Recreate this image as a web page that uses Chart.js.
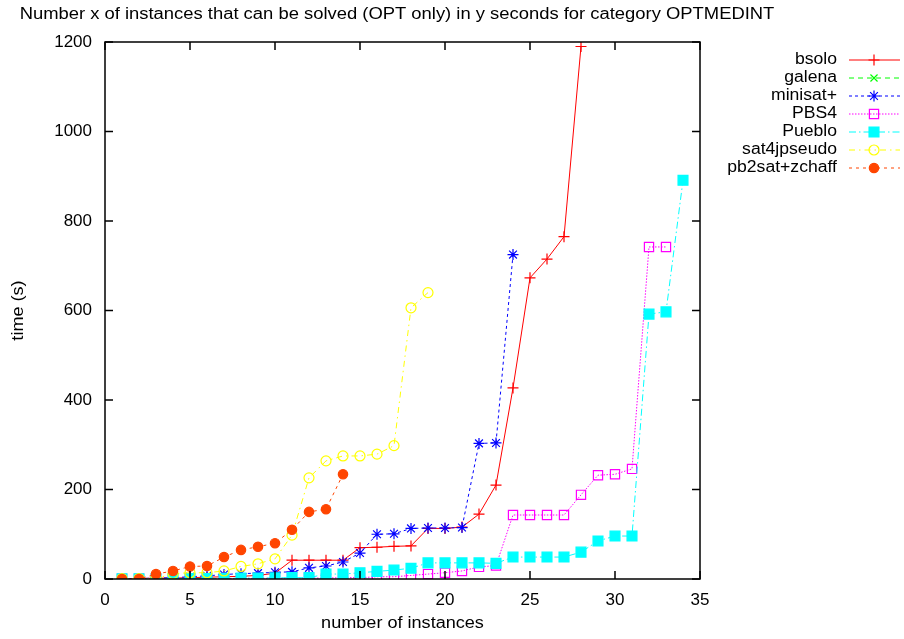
<!DOCTYPE html>
<html>
<head>
<meta charset="utf-8">
<script src="https://cdn.jsdelivr.net/npm/chart.js@4/dist/chart.umd.min.js"></script>
<style>
  html, body { margin: 0; padding: 0; background: #fff; }
  #chart { display: block; }
</style>
</head>
<body>
<canvas id="chart" width="904" height="639"></canvas>
<script>
// Solve times (s) per solver, sorted; the n-th value is the time needed for n instances.
const seriesNames = ['bsolo', 'galena', 'minisat+', 'PBS4', 'Pueblo', 'sat4jpseudo', 'pb2sat+zchaff'];

const bsoloTimes = [1, 1, 2, 2, 3, 4, 5, 6, 8, 13, 42, 42, 42, 42, 70, 71, 73, 74, 113, 113,
  116, 145, 210, 427, 673, 715, 765, 1190];
const galenaTimes = [];
const minisatTimes = [1, 1, 2, 3, 5, 7, 10, 12, 13, 15, 16, 25, 29, 38, 58, 100, 101, 113, 114, 114,
  115, 303, 304, 725];
const pbs4Times = [0.5, 0.5, 0.5, 1, 1, 1, 1, 1, 1.5, 1.5, 2, 2, 2, 3, 3, 5, 5, 8, 11, 14,
  18, 27, 30, 143, 143, 143, 143, 188, 232, 234, 246, 742, 742];
const puebloTimes = [0.5, 0.5, 0.5, 1, 1, 1, 1.5, 2, 2, 2.5, 3, 3, 11, 11, 14, 17, 20, 24, 36, 36,
  36, 36, 35, 49, 49, 49, 49, 60, 85, 96, 96, 592, 597, 891];
const sat4jTimes = [1, 1, 1, 12, 14, 14, 18, 28, 34, 45, 98, 226, 264, 275, 275, 279, 298, 606, 640];
const pb2satTimes = [0, 0, 11, 18, 28, 29, 49, 65, 72, 80, 110, 150, 156, 234];

const xTicks = [0, 5, 10, 15, 20, 25, 30, 35];
const yTicks = [0, 200, 400, 600, 800, 1000, 1200];

const TITLE = 'Number x of instances that can be solved (OPT only) in y seconds for category OPTMEDINT';
const FONT = '"Liberation Sans", Arial, Helvetica, sans-serif';

function toPoints(times) {
  return times.map((t, i) => ({ x: i + 1, y: t }));
}

// gnuplot-like styles
const styles = [
  { color: '#ff0000', dash: [], point: 'cross', radius: 5.5, fill: false },
  { color: '#00ff00', dash: [5, 4], point: 'crossRot', radius: 5, fill: false },
  { color: '#0000ff', dash: [3, 3], point: 'star', radius: 5.5, fill: false },
  { color: '#ff00ff', dash: [1.5, 1.5], point: 'rect', radius: 6.5, fill: false },
  { color: '#00ffff', dash: [7, 3, 1.5, 3], point: 'rect', radius: 7, fill: true },
  { color: '#ffff00', dash: [6, 4, 1.5, 4], point: 'circle', radius: 5, fill: false },
  { color: '#ff4500', dash: [3, 4], point: 'circle', radius: 4.7, fill: true },
];

const allTimes = [bsoloTimes, galenaTimes, minisatTimes, pbs4Times, puebloTimes, sat4jTimes, pb2satTimes];

const datasets = allTimes.map((times, i) => {
  const s = styles[i];
  return {
    label: seriesNames[i],
    data: toPoints(times),
    borderColor: s.color,
    backgroundColor: s.color,
    borderWidth: 1,
    borderDash: s.dash,
    pointStyle: s.point,
    pointRadius: s.radius,
    pointBorderWidth: 1.2,
    pointBorderColor: s.color,
    pointBackgroundColor: s.fill ? s.color : 'rgba(0,0,0,0)',
    tension: 0,
    fill: false,
    order: allTimes.length - i, // later series drawn on top, as gnuplot does
  };
});

// gnuplot's text comes out a little wider than it is tall
function wideText(ctx, text, x, y, align, sx) {
  ctx.save();
  ctx.translate(x, y);
  ctx.scale(sx, 1);
  ctx.textAlign = align;
  ctx.fillText(text, 0, 0);
  ctx.restore();
}

// frame, inward mirrored ticks, titles and the right-hand key
const gnuplotFrame = {
  id: 'gnuplotFrame',
  afterDraw(chart) {
    const { ctx, chartArea: a, scales } = chart;
    const xs = scales.x, ys = scales.y;
    const tl = 8;
    ctx.save();
    ctx.strokeStyle = '#000';
    ctx.lineWidth = 1.5;
    ctx.setLineDash([]);
    ctx.strokeRect(a.left, a.top, a.right - a.left, a.bottom - a.top);
    ctx.beginPath();
    xTicks.forEach((v) => {
      const px = xs.getPixelForValue(v);
      ctx.moveTo(px, a.bottom); ctx.lineTo(px, a.bottom - tl);
      ctx.moveTo(px, a.top); ctx.lineTo(px, a.top + tl);
    });
    yTicks.forEach((v) => {
      const py = ys.getPixelForValue(v);
      ctx.moveTo(a.left, py); ctx.lineTo(a.left + tl, py);
      ctx.moveTo(a.right, py); ctx.lineTo(a.right - tl, py);
    });
    ctx.stroke();

    ctx.fillStyle = '#000';
    ctx.font = '16px ' + FONT;
    ctx.textBaseline = 'middle';
    // title
    wideText(ctx, TITLE, 397, 15, 'center', 1.15);
    // axis titles
    wideText(ctx, 'number of instances', (a.left + a.right) / 2, 624, 'center', 1.13);
    ctx.save();
    ctx.translate(19, (a.top + a.bottom) / 2);
    ctx.rotate(-Math.PI / 2);
    wideText(ctx, 'time (s)', 0, 0, 'center', 1.13);
    ctx.restore();

    // key
    chart.data.datasets.forEach((ds, i) => {
      const y = 60 + i * 18;
      ctx.fillStyle = '#000';
      wideText(ctx, ds.label, 837, y, 'right', 1.1);
      ctx.strokeStyle = ds.borderColor;
      ctx.lineWidth = 1;
      ctx.setLineDash(ds.borderDash);
      ctx.beginPath();
      ctx.moveTo(849, y); ctx.lineTo(900, y);
      ctx.stroke();
      ctx.setLineDash([]);
      ctx.fillStyle = ds.pointBackgroundColor;
      ctx.strokeStyle = ds.pointBorderColor;
      ctx.lineWidth = ds.pointBorderWidth;
      Chart.helpers.drawPoint(ctx, {
        pointStyle: ds.pointStyle,
        radius: ds.pointRadius,
        borderWidth: ds.pointBorderWidth,
      }, 874, y);
    });
    ctx.restore();
  },
};

new Chart(document.getElementById('chart'), {
  type: 'line',
  data: { datasets },
  options: {
    responsive: false,
    animation: false,
    devicePixelRatio: 1,
    layout: { padding: { top: 42, right: 204, left: 0, bottom: 0 } },
    plugins: {
      legend: { display: false },
      tooltip: { enabled: false },
      title: { display: false },
    },
    scales: {
      x: {
        type: 'linear',
        min: 0,
        max: 35,
        afterFit(scale) { scale.height = 60; },
        afterBuildTicks(scale) { scale.ticks = xTicks.map((v) => ({ value: v })); },
        grid: { display: false },
        border: { display: false },
        ticks: {
          color: '#000', padding: 3, maxRotation: 0,
          font: { family: FONT, size: 17 },
          callback: (v) => String(v),
        },
      },
      y: {
        type: 'linear',
        min: 0,
        max: 1200,
        afterFit(scale) { scale.width = 105; },
        afterBuildTicks(scale) { scale.ticks = yTicks.map((v) => ({ value: v })); },
        grid: { display: false },
        border: { display: false },
        ticks: {
          color: '#000', padding: 5,
          font: { family: FONT, size: 17 },
          callback: (v) => String(v),
        },
      },
    },
  },
  plugins: [gnuplotFrame],
});
</script>
</body>
</html>
